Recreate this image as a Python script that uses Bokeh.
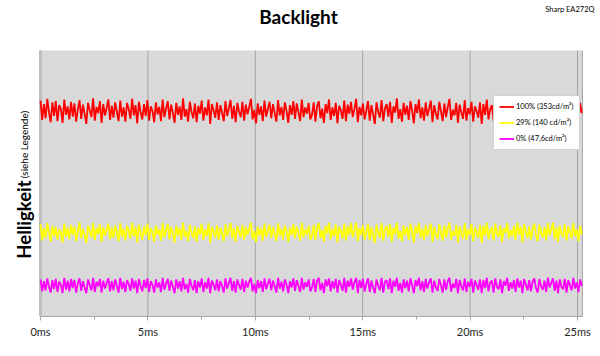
import numpy as np
from bokeh.plotting import figure
from bokeh.models import Label, Legend, LegendItem, FixedTicker, Range1d, BoxAnnotation
from bokeh.embed import file_html
from bokeh.resources import INLINE

# ---------------- data ----------------
title_text = "Backlight"
subtitle_text = "Sharp EA272Q"
ylabel_main = "Helligkeit"
ylabel_note = "(siehe Legende)"
series_names = ["100% (353cd/m\u00b2)", "29% (140 cd/m\u00b2)", "0% (47,6cd/m\u00b2)"]
series_colors = ["#ff0000", "#ffff00", "#ff00ff"]
tick_values = [0, 5, 10, 15, 20, 25]
tick_labels = ["0ms", "5ms", "10ms", "15ms", "20ms", "25ms"]
minor_tick_values = [2.5, 7.5, 12.5, 17.5, 22.5]
axis_x_limits = [0, 25.23]      # ms, extent of the plot area
axis_y_limits = [-7, 460]       # cd/m2, extent of the plot area
sample_interval_ms = 0.079

red_values = [
    372, 338, 366, 341, 375, 352, 334, 369, 345, 371,
    336, 364, 358, 333, 374, 347, 362, 339, 370, 344,
    367, 335, 356, 373, 340, 365, 349, 331, 368, 355,
    343, 376, 337, 361, 350, 371, 333, 366, 346, 359,
    374, 338, 363, 342, 369, 352, 336, 372, 344, 360,
    335, 368, 357, 340, 375, 346, 364, 332, 370, 351,
    339, 366, 345, 373, 337, 362, 354, 334, 369, 348,
    361, 336, 374, 343, 358, 371, 339, 365, 350, 333,
    368, 347, 362, 338, 376, 344, 357, 335, 370, 352,
    341, 367, 334, 363, 349, 372, 337, 360, 346, 374,
    331, 366, 355, 342, 369, 338, 364, 351, 336, 371,
    345, 359, 373, 340, 363, 334, 368, 353, 343, 370,
    337, 365, 348, 361, 375, 339, 356, 332, 367, 347,
    362, 336, 372, 344, 358, 370, 341, 366, 350, 335,
    373, 346, 361, 338, 369, 354, 333, 364, 347, 371,
    340, 367, 352, 336, 374, 343, 360, 349, 368, 339,
    347, 369, 335, 362, 371, 341, 358, 333, 366, 350,
    374, 338, 360, 345, 368, 332, 363, 355, 340, 372,
    336, 365, 349, 370, 343, 357, 375, 334, 361, 346,
    367, 339, 354, 371, 337, 364, 348, 331, 369, 352,
    342, 373, 336, 359, 366, 344, 370, 333, 362, 351,
    376, 340, 357, 335, 368, 347, 363, 338, 371, 355,
    332, 366, 350, 374, 341, 360, 337, 369, 345, 358,
    372, 334, 364, 349, 339, 370, 353, 336, 367, 343,
    361, 375, 338, 356, 346, 368, 333, 365, 351, 340,
    373, 337, 359, 348, 370, 335, 362, 354, 342, 369,
    331, 366, 347, 374, 339, 357, 364, 336, 371, 350,
    344, 368, 334, 361, 353, 372, 340, 358, 345, 367,
    337, 375, 349, 363, 332, 369, 355, 341, 366, 338,
    360, 373, 346, 335, 370, 352, 343, 364, 336, 371,
    348, 358, 374, 339, 362, 333, 367, 351, 344, 370,
    336, 365, 354, 340, 372, 347, 359, 334, 368, 350,
]
yellow_values = [
    155, 126, 148, 131, 157, 139, 124, 152, 134, 150,
    128, 146, 141, 123, 156, 133, 149, 129, 154, 137,
    151, 125, 143, 158, 130, 147, 136, 122, 153, 142,
    132, 157, 127, 148, 138, 155, 124, 150, 135, 145,
    156, 129, 149, 131, 153, 140, 125, 157, 133, 147,
    126, 152, 144, 130, 158, 134, 150, 123, 154, 139,
    128, 151, 136, 156, 127, 148, 141, 124, 153, 137,
    146, 126, 157, 132, 144, 155, 129, 150, 138, 123,
    152, 135, 148, 128, 158, 133, 143, 125, 154, 140,
    131, 151, 124, 149, 137, 156, 127, 146, 134, 157,
    122, 150, 142, 131, 153, 128, 149, 139, 125, 155,
    134, 145, 157, 130, 148, 124, 152, 141, 132, 154,
    127, 150, 136, 147, 158, 129, 143, 123, 151, 135,
    148, 126, 156, 133, 144, 154, 131, 150, 138, 125,
    157, 135, 147, 128, 153, 142, 124, 149, 136, 155,
    130, 151, 140, 126, 158, 132, 146, 137, 152, 128,
    135, 154, 127, 149, 157, 131, 145, 124, 152, 139,
    158, 129, 147, 134, 155, 123, 150, 142, 130, 156,
    126, 151, 137, 157, 132, 144, 158, 125, 148, 136,
    153, 128, 141, 156, 127, 150, 135, 122, 154, 140,
    131, 157, 126, 146, 152, 133, 155, 124, 149, 138,
    158, 130, 143, 125, 153, 136, 150, 128, 156, 142,
    123, 152, 139, 157, 131, 147, 127, 154, 134, 145,
    156, 124, 150, 137, 129, 155, 141, 126, 153, 132,
    148, 158, 128, 143, 135, 154, 123, 151, 139, 130,
    157, 127, 146, 136, 155, 125, 149, 141, 131, 154,
    122, 152, 135, 158, 129, 144, 150, 126, 156, 138,
    133, 153, 124, 148, 140, 157, 130, 145, 134, 152,
    127, 158, 137, 150, 123, 155, 142, 131, 151, 128,
    147, 156, 135, 125, 154, 139, 132, 150, 126, 157,
    136, 145, 158, 129, 149, 124, 153, 138, 133, 155,
    126, 151, 141, 130, 157, 134, 146, 125, 152, 137,
]
magenta_values = [
    58, 37, 55, 39, 60, 45, 35, 57, 41, 59,
    36, 54, 49, 34, 61, 40, 56, 37, 59, 43,
    57, 35, 51, 60, 38, 55, 44, 34, 58, 48,
    39, 61, 36, 54, 46, 59, 35, 56, 42, 52,
    60, 37, 55, 39, 58, 47, 35, 61, 41, 54,
    36, 57, 50, 38, 60, 42, 56, 34, 59, 46,
    37, 57, 43, 60, 36, 55, 48, 35, 58, 44,
    53, 36, 61, 40, 51, 59, 38, 56, 45, 34,
    58, 42, 55, 37, 61, 41, 50, 35, 59, 47,
    39, 57, 34, 55, 44, 60, 36, 53, 42, 61,
    34, 56, 49, 39, 58, 37, 55, 46, 35, 60,
    42, 52, 61, 38, 55, 35, 58, 48, 40, 59,
    36, 56, 44, 54, 61, 37, 50, 34, 57, 43,
    55, 36, 60, 41, 51, 59, 39, 56, 46, 35,
    61, 42, 54, 37, 58, 49, 34, 55, 44, 60,
    38, 57, 47, 36, 61, 40, 53, 45, 58, 37,
    44, 59, 36, 56, 61, 39, 52, 34, 58, 46,
    60, 37, 55, 42, 59, 35, 57, 49, 38, 61,
    35, 56, 45, 60, 40, 53, 61, 34, 57, 43,
    59, 37, 50, 60, 36, 56, 44, 34, 58, 47,
    39, 61, 35, 54, 57, 41, 60, 34, 56, 45,
    61, 38, 52, 35, 58, 43, 56, 37, 60, 48,
    34, 57, 46, 61, 39, 55, 36, 59, 42, 53,
    60, 35, 56, 44, 38, 59, 48, 35, 58, 40,
    55, 61, 37, 51, 43, 59, 34, 57, 46, 39,
    60, 36, 54, 45, 59, 35, 56, 48, 40, 58,
    34, 57, 43, 61, 37, 52, 56, 35, 60, 45,
    41, 58, 34, 55, 47, 61, 38, 53, 42, 57,
    36, 60, 44, 56, 34, 59, 49, 39, 57, 37,
    54, 60, 43, 35, 59, 46, 40, 56, 36, 61,
    44, 52, 60, 38, 56, 34, 58, 45, 41, 59,
    35, 57, 48, 39, 61, 42, 53, 36, 58, 46,
]

# ---------------- figure ----------------
FONT = "Lato"
W, H = 600, 356
FRAME_H = 316
px_per_ms = 21.48
left_px = 40.0
top_px = 50.0
px_per_unit = (FRAME_H - top_px) / (axis_y_limits[1] - axis_y_limits[0])

x_start = axis_x_limits[0] - left_px / px_per_ms
x_end = x_start + W / px_per_ms
y_start = axis_y_limits[0]
y_end = axis_y_limits[1] + top_px / px_per_unit

p = figure(width=W, height=H, output_backend="svg", toolbar_location=None, title=None,
           x_range=Range1d(x_start, x_end), y_range=Range1d(y_start, y_end),
           y_axis_location=None,
           min_border_left=0, min_border_right=0, min_border_top=0, min_border_bottom=H - FRAME_H,
           background_fill_color="white", border_fill_color="white", outline_line_color=None)
p.xgrid.visible = False
p.ygrid.visible = False

# plot area (chart wall)
p.add_layout(BoxAnnotation(left=axis_x_limits[0], right=axis_x_limits[1],
                           bottom=axis_y_limits[0], top=axis_y_limits[1],
                           fill_color="#d9d9d9", fill_alpha=1, line_color=None, level="underlay"))

# vertical gridlines at the tick values
n = len(tick_values)
p.segment(x0=tick_values, y0=[axis_y_limits[0]] * n, x1=tick_values, y1=[axis_y_limits[1]] * n,
          line_color="#a3a3a3", line_width=1)
# wall edges
p.segment(x0=[axis_x_limits[0]], y0=[axis_y_limits[0]], x1=[axis_x_limits[0]], y1=[axis_y_limits[1]],
          line_color="#bfbfbf", line_width=3)
p.segment(x0=[axis_x_limits[1]], y0=[axis_y_limits[0]], x1=[axis_x_limits[1]], y1=[axis_y_limits[1]],
          line_color="#a6a6a6", line_width=1)

items = []
for vals, name, color in zip([red_values, yellow_values, magenta_values], series_names, series_colors):
    t = np.arange(len(vals)) * sample_interval_ms
    r = p.line(t, vals, line_color=color, line_width=1.8)
    items.append(LegendItem(label=name, renderers=[r]))

# x axis
xa = p.xaxis[0]
xa.bounds = (axis_x_limits[0], axis_x_limits[1])
xa.ticker = FixedTicker(ticks=tick_values, minor_ticks=minor_tick_values)
xa.major_label_overrides = {v: s for v, s in zip(tick_values, tick_labels)}
xa.axis_line_color = "#a6a6a6"
xa.major_tick_line_color = "#a6a6a6"
xa.minor_tick_line_color = "#a6a6a6"
xa.major_tick_in = 0
xa.major_tick_out = 4
xa.minor_tick_in = 0
xa.minor_tick_out = 3
xa.major_label_standoff = 4
xa.major_label_text_font = FONT
xa.major_label_text_font_size = "11px"
xa.major_label_text_color = "#262626"

# legend
legend = Legend(items=items, location=(493, 166), margin=0, padding=5, spacing=5,
                label_height=11, glyph_height=11, glyph_width=15, label_standoff=2,
                label_text_font=FONT, label_text_font_size="7.5px", label_text_color="#000000",
                border_line_color="#a6a6a6", border_line_width=1,
                background_fill_color="white", background_fill_alpha=1)
p.add_layout(legend)

# texts (screen units, origin at bottom-left of the frame)
p.add_layout(Label(x=298, y=FRAME_H - 16, x_units="screen", y_units="screen", text=title_text,
                   text_font=FONT, text_font_style="bold", text_font_size="19px",
                   text_align="center", text_baseline="middle", text_color="#000000"))
p.add_layout(Label(x=594, y=FRAME_H - 9, x_units="screen", y_units="screen", text=subtitle_text,
                   text_font=FONT, text_font_size="7.5px",
                   text_align="right", text_baseline="middle", text_color="#000000"))
p.add_layout(Label(x=23, y=FRAME_H - 219, x_units="screen", y_units="screen", text=ylabel_main,
                   text_font=FONT, text_font_style="bold", text_font_size="18.5px", angle=np.pi / 2,
                   text_align="center", text_baseline="alphabetic", text_color="#000000"))
p.add_layout(Label(x=23, y=FRAME_H - 144, x_units="screen", y_units="screen", text=ylabel_note,
                   text_font=FONT, text_font_size="10px", angle=np.pi / 2,
                   text_align="center", text_baseline="alphabetic", text_color="#000000"))

open("out.html", "w").write(file_html(p, INLINE))
